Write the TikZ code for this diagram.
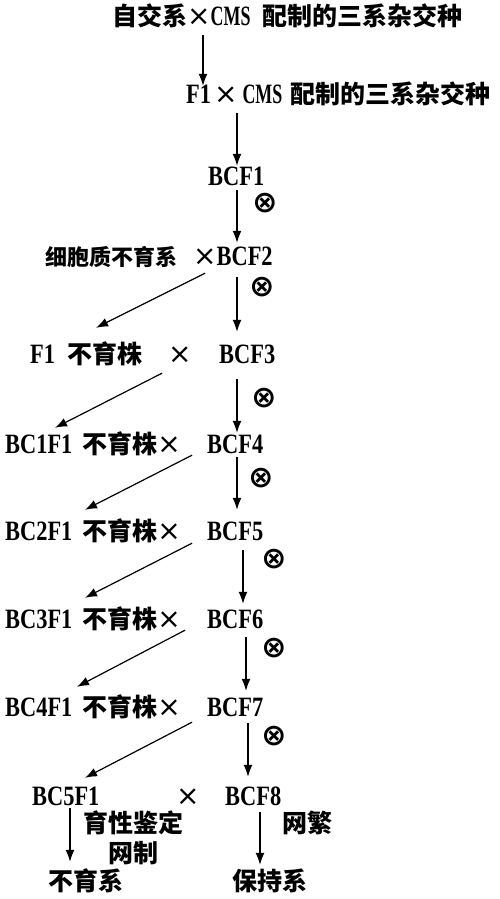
\documentclass[tikz,border=0pt]{standalone}
\usepackage{fontspec}
\setmainfont[FakeStretch=0.8]{Liberation Serif}
\newfontfamily\cjk{Noto Sans CJK SC}
\newfontfamily\symb{DejaVu Sans}
\newcommand{\zh}[1]{{\cjk\fontsize{25}{30}\selectfont\bfseries #1}}
\newcommand{\by}{{\symb\mdseries\fontsize{28}{30}\selectfont ×}}
\usetikzlibrary{arrows.meta,calc}

\begin{document}
\begin{tikzpicture}[x=1pt,y=1pt,yscale=-1,
  txt/.style={anchor=base west,inner sep=0pt,text height=18pt,text depth=3pt,font=\fontsize{28}{30}\selectfont\bfseries},
  selfmark/.style={inner sep=0pt,font=\symb\bfseries\fontsize{30}{34}\selectfont},
  arr/.style={-{Latex[length=12pt,width=9pt]},line width=1.2pt}]
\useasboundingbox (0,0) rectangle (500,899);

%Text rows
\node[txt] (top) at (112,26) {\zh{自交系}\by\scalebox{0.8}[1]{CMS}\hspace{12pt}\zh{配制的三系杂交种}};
\node[txt] (fcms) at (186,103) {F1\hspace{3pt}\by\hspace{5pt}\scalebox{0.8}[1]{CMS}\hspace{8pt}\zh{配制的三系杂交种}};
\node[txt] (bcf1) at (208,185) {BCF1};
\node[txt] (cyto) at (45,265) {{\cjk\fontsize{22}{26}\selectfont\bfseries 细胞质不育系}};
\node[txt] (bcf2) at (193,265) {\by BCF2};
\node[txt] (f1) at (30,363) {F1\hspace{12pt}\zh{不育株}};
\node[txt] (x3) at (168,363) {\by};
\node[txt] (bcf3) at (219,363) {BCF3};
\node[txt] (bc1) at (5,453) {BC1F1\hspace{10pt}\zh{不育株}\by};
\node[txt] (bcf4) at (207,453) {BCF4};
\node[txt] (bc2) at (5,540) {BC2F1\hspace{10pt}\zh{不育株}\by};
\node[txt] (bcf5) at (207,540) {BCF5};
\node[txt] (bc3) at (5,628) {BC3F1\hspace{10pt}\zh{不育株}\by};
\node[txt] (bcf6) at (207,628) {BCF6};
\node[txt] (bc4) at (5,716) {BC4F1\hspace{10pt}\zh{不育株}\by};
\node[txt] (bcf7) at (207,716) {BCF7};
\node[txt] (bc5) at (32,805) {BC5F1};
\node[txt] (x8) at (176,805) {\by};
\node[txt] (bcf8) at (225,805) {BCF8};
\node[txt] (ident) at (83,832) {\zh{育性鉴定}};
\node[txt] (wzhi) at (108,862) {\zh{网制}};
\node[txt] (wfan) at (282,832) {\zh{网繁}};
\node[txt] (ster) at (48,890) {\zh{不育系}};
\node[txt] (main) at (232,890) {\zh{保持系}};

%Selfing marks
\node[selfmark] (o1) at (265,203) {⊗};
\node[selfmark] (o2) at (262,287) {⊗};
\node[selfmark] (o3) at (264,398) {⊗};
\node[selfmark] (o4) at (261,478) {⊗};
\node[selfmark] (o5) at (274,559) {⊗};
\node[selfmark] (o6) at (274,648) {⊗};
\node[selfmark] (o7) at (274,736) {⊗};

%Vertical arrows
\draw[arr] ($(top.south west)+(91,6)$) -- ($(fcms.north west)+(17,1)$);
\draw[arr] ($(fcms.south west)+(51,7)$) -- ($(bcf1.north west)+(29,-1)$);
\draw[arr] ($(bcf1.south west)+(29,2)$) -- ($(bcf2.north west)+(44,-4)$);
\draw[arr] ($(bcf2.south west)+(44,9)$) -- ($(bcf3.north west)+(18,-13)$);
\draw[arr] ($(bcf3.south west)+(18,13)$) -- ($(bcf4.north west)+(30,-2)$);
\draw[arr] ($(bcf4.south west)+(30,1)$) -- ($(bcf5.north west)+(30,-12)$);
\draw[arr] ($(bcf5.south west)+(36,7)$) -- ($(bcf6.north west)+(36,-6)$);
\draw[arr] ($(bcf6.south west)+(39,6)$) -- ($(bcf7.north west)+(39,-7)$);
\draw[arr] ($(bcf7.south west)+(41,4)$) -- ($(bcf8.north west)+(23,-10)$);
\draw[arr] ($(bc5.south west)+(38,0)$) -- ($(ster.north west)+(22,-10)$);
\draw[arr] ($(bcf8.south west)+(35,4)$) -- ($(main.north west)+(28,-7)$);

%Diagonal arrows
\draw[arr] ($(bcf2.south west)+(12,5)$) -- ($(f1.north west)+(66,-17)$);
\draw[arr] ($(x3.south west)+(-6,7)$) -- ($(bc1.north west)+(50,-7)$);
\draw[arr] ($(bcf4.south west)+(-15,-1)$) -- ($(bc2.north west)+(80,-12)$);
\draw[arr] ($(bcf5.south west)+(-15,0)$) -- ($(bc3.north west)+(80,-12)$);
\draw[arr] ($(bcf6.south west)+(-22,-1)$) -- ($(bc4.north west)+(72,-11)$);
\draw[arr] ($(bcf7.south west)+(-15,3)$) -- ($(bc5.north west)+(53,-9)$);

\end{tikzpicture}
\end{document}
